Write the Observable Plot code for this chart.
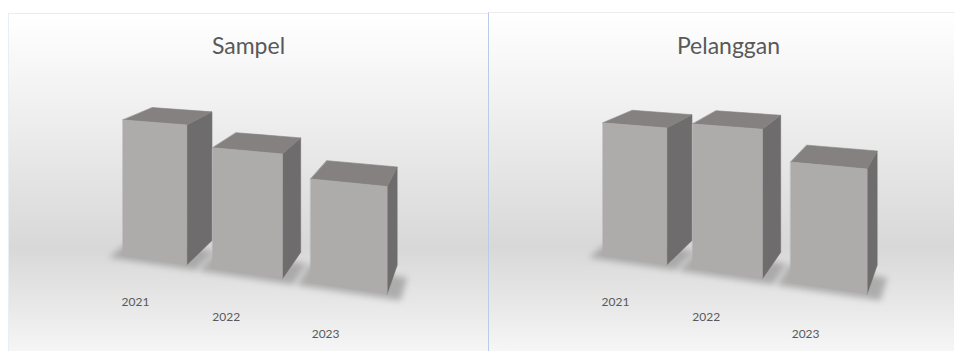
<!DOCTYPE html>
<html><head><meta charset="utf-8">
<script src="https://cdn.jsdelivr.net/npm/d3@7"></script>
<script src="https://cdn.jsdelivr.net/npm/@observablehq/plot@0.6"></script>
<style>
html,body{margin:0;padding:0;background:#fff;width:954px;height:351px;overflow:hidden}
#wrap{position:relative;width:954px;height:351px;overflow:hidden}
.panel{position:absolute;height:345px;width:480px;box-sizing:border-box;
  background:linear-gradient(to bottom,#ffffff 0%,#f3f3f3 22%,#d8d8d8 68%,#e7e7e7 84%,#f8f8f8 100%);
  border-top:1px solid #ececec;}
#p0{left:8px;top:13px;border-left:1px solid #e8eef7}
#p1{left:488px;top:12px;border-left:1px solid #b9cbe6}
.chart{position:absolute;top:0}
</style></head><body>
<div id="wrap">
  <div class="panel" id="p0"></div>
  <div class="panel" id="p1"></div>
</div>
<script>
// ---- data ----
const years = ["2021", "2022", "2023"];
const sampel = [92, 78.5, 64.5];
const pelanggan = [90, 94, 75];
const titles = ["Sampel", "Pelanggan"];

// ---- camera (2-point perspective) ----
const W = 480, H = 351;
const F = 737, CX = 242, CY = -40;
const YAW = 18.9 * Math.PI / 180;
const cosA = Math.cos(YAW), sinA = Math.sin(YAW);
const U0 = -0.173, V0 = -0.4003;
function project(X, Y, Z) {
  const u = U0 + cosA * X + sinA * Z;
  const w = 1 - sinA * X + cosA * Z;
  const v = V0 + Y;
  return {px: u / w, py: v / w};
}

const xBand = Plot.scale({x: {type: "band", domain: years, range: [0, 0.3562], paddingInner: 0.28, paddingOuter: 0, align: 0}});
const hScale = Plot.scale({y: {type: "linear", domain: [0, 100], range: [0, 0.2]}});
const bw = xBand.bandwidth;
const depth = bw * 0.94;

const FRONT = "#aeabab", SIDE = "#6e6c6c", TOP = "#858181", SHADOW = "#808080";

function buildPanel(values, title, idx) {
  const shadows = [], faces = [], labels = [];
  years.forEach((yr, i) => {
    const x0 = xBand.apply(yr), x1 = x0 + bw;
    const h = hScale.apply(values[i]);
    const sx0 = x0 - 0.15 * bw, sx1 = x1 + 0.18 * bw, sz0 = -0.12 * bw, sz1 = depth * 0.6;
    [[sx0,0,sz0],[sx1,0,sz0],[sx1,0,sz1],[sx0,0,sz1]].forEach(p => shadows.push({id: "s" + yr, fill: SHADOW, ...project(...p)}));
    const poly = (name, fill, pts) => pts.forEach(p => faces.push({id: yr + name, fill, ...project(...p)}));
    poly("side", SIDE, [[x1,0,0],[x1,0,depth],[x1,h,depth],[x1,h,0]]);
    poly("top", TOP, [[x0,h,0],[x1,h,0],[x1,h,depth],[x0,h,depth]]);
    poly("front", FRONT, [[x0,0,0],[x1,0,0],[x1,h,0],[x0,h,0]]);
    labels.push({year: yr, ...project(x0 + 0.2 * bw, hScale.apply(-30), 0)});
  });
  const svg = Plot.plot({
    width: W, height: H, margin: 0,
    style: {background: "transparent", overflow: "visible"},
    x: {domain: [(0 - CX) / F, (W - CX) / F], axis: null},
    y: {domain: [(CY - H) / F, CY / F], axis: null},
    marks: [
      Plot.line(shadows.concat(faces), {x: "px", y: "py", z: "id", curve: "linear-closed", fill: "fill", stroke: "fill", strokeWidth: 0.6}),
      Plot.text(labels, {x: "px", y: "py", text: "year", fill: "#595959", fontSize: 12, fontFamily: "Lato"}),
      Plot.text([title], {frameAnchor: "top", dy: 53, lineAnchor: "bottom", text: d => d, fill: "#595959", fontSize: 23, fontFamily: "Lato"})
    ]
  });
  // soft shadow filter applied to the shadow polygons
  const ns = "http://www.w3.org/2000/svg";
  const defs = document.createElementNS(ns, "defs");
  const filt = document.createElementNS(ns, "filter");
  filt.setAttribute("id", "shadowBlur" + idx);
  filt.setAttribute("x", "-30%"); filt.setAttribute("y", "-60%");
  filt.setAttribute("width", "160%"); filt.setAttribute("height", "220%");
  const blur = document.createElementNS(ns, "feGaussianBlur");
  blur.setAttribute("stdDeviation", "3");
  filt.appendChild(blur); defs.appendChild(filt);
  svg.insertBefore(defs, svg.firstChild);
  svg.querySelectorAll("path").forEach(p => {
    const f = (p.getAttribute("fill") || "").toLowerCase();
    if (f === SHADOW) { p.setAttribute("filter", `url(#shadowBlur${idx})`); p.setAttribute("opacity", "0.55"); }
  });
  svg.classList.add("chart");
  svg.style.left = (idx === 0 ? 8 : 488) + "px";
  svg.style.position = "absolute";
  svg.style.top = "0px";
  document.getElementById("wrap").appendChild(svg);
}
buildPanel(sampel, titles[0], 0);
buildPanel(pelanggan, titles[1], 1);
</script>
</body></html>
